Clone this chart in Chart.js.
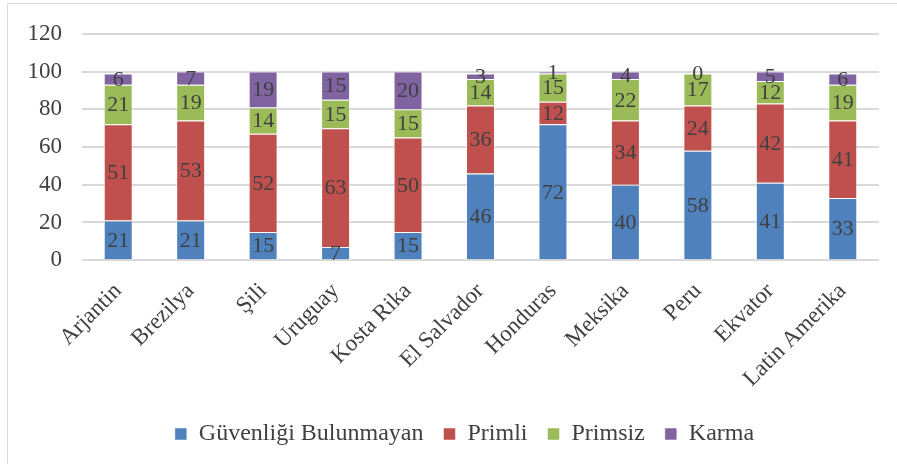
<!DOCTYPE html>
<html>
<head>
<meta charset="utf-8">
<script src="https://cdn.jsdelivr.net/npm/chart.js@4"></script>
<style>
    html, body { margin: 0; padding: 0; background: #fff; }
    #wrap { position: relative; width: 897px; height: 464px; }
    #frame { position: absolute; left: 7px; top: 3px; width: 900px; height: 470px; border: 1px solid #d9d9d9; }
</style>
</head>
<body>
<div id="wrap">
    <div id="frame"></div>
    <canvas id="myChart" width="897" height="464"></canvas>
</div>
<script>
// data
const countries = ['Arjantin', 'Brezilya', 'Şili', 'Uruguay', 'Kosta Rika', 'El Salvador', 'Honduras', 'Meksika', 'Peru', 'Ekvator', 'Latin Amerika'];
const guvenligiBulunmayan = [21, 21, 15, 7, 15, 46, 72, 40, 58, 41, 33];
const primli = [51, 53, 52, 63, 50, 36, 12, 34, 24, 42, 41];
const primsiz = [21, 19, 14, 15, 15, 14, 15, 22, 17, 12, 19];
const karma = [6, 7, 19, 15, 20, 3, 1, 4, 0, 5, 6];
const yTicks = [0, 20, 40, 60, 80, 100, 120];

const FONT = "'Liberation Serif', 'Times New Roman', serif";
Chart.defaults.font.family = FONT;
Chart.defaults.font.size = 23;
Chart.defaults.color = '#404040';

// draws the value in the middle of each bar segment
const barLabels = {
    id: 'barLabels',
    afterDatasetsDraw(chart) {
        const ctx = chart.ctx;
        ctx.save();
        ctx.font = '22px ' + FONT;
        ctx.fillStyle = '#404040';
        ctx.textAlign = 'center';
        ctx.textBaseline = 'middle';
        chart.data.datasets.forEach((ds, i) => {
            chart.getDatasetMeta(i).data.forEach((bar, j) => {
                const p = bar.getProps(['x', 'y', 'base'], true);
                ctx.fillText(ds.data[j], p.x, (p.y + p.base) / 2 + 1);
            });
        });
        ctx.restore();
    }
};

// legend in the original sits a bit right of centre
const legendShift = {
    id: 'legendShift',
    afterLayout(chart) {
        chart.legend.left += 25;
        chart.legend.right += 25;
    }
};

function drawChart() {
    new Chart(document.getElementById('myChart'), {
        type: 'bar',
        data: {
            labels: countries,
            datasets: [
                { label: 'Güvenliği Bulunmayan', data: guvenligiBulunmayan, backgroundColor: '#4F81BD' },
                { label: 'Primli', data: primli, backgroundColor: '#C0504D' },
                { label: 'Primsiz', data: primsiz, backgroundColor: '#9BBB59' },
                { label: 'Karma', data: karma, backgroundColor: '#8064A2' }
            ]
        },
        options: {
            responsive: false,
            animation: false,
            categoryPercentage: 1.0,
            barPercentage: 0.4,
            borderColor: 'rgba(255,255,255,0.5)',
            borderWidth: 1,
            layout: { padding: { top: 24, right: 18, left: 0, bottom: 8 } },
            plugins: {
                tooltip: { enabled: false },
                legend: {
                    position: 'bottom',
                    labels: {
                        font: { family: FONT, size: 24 },
                        color: '#404040',
                        boxWidth: 12,
                        boxHeight: 12,
                        padding: 20
                    }
                }
            },
            scales: {
                x: {
                    stacked: true,
                    grid: { display: false },
                    border: { display: false },
                    ticks: {
                        font: { family: FONT, size: 23 },
                        color: '#404040',
                        minRotation: 45,
                        maxRotation: 45,
                        padding: 9.5
                    }
                },
                y: {
                    stacked: true,
                    min: 0,
                    max: 120,
                    afterBuildTicks: axis => { axis.ticks = yTicks.map(v => ({ value: v })); },
                    afterFit: axis => { axis.width = 82; },
                    grid: { color: '#d9d9d9', lineWidth: 2, drawTicks: false },
                    border: { display: false },
                    ticks: {
                        font: { family: FONT, size: 23 },
                        color: '#404040',
                        padding: 20
                    }
                }
            }
        },
        plugins: [barLabels, legendShift]
    });
}

Promise.all([
    document.fonts.load('23px "Liberation Serif"'),
    document.fonts.load('24px "Liberation Serif"')
]).then(drawChart, drawChart);
</script>
</body>
</html>
